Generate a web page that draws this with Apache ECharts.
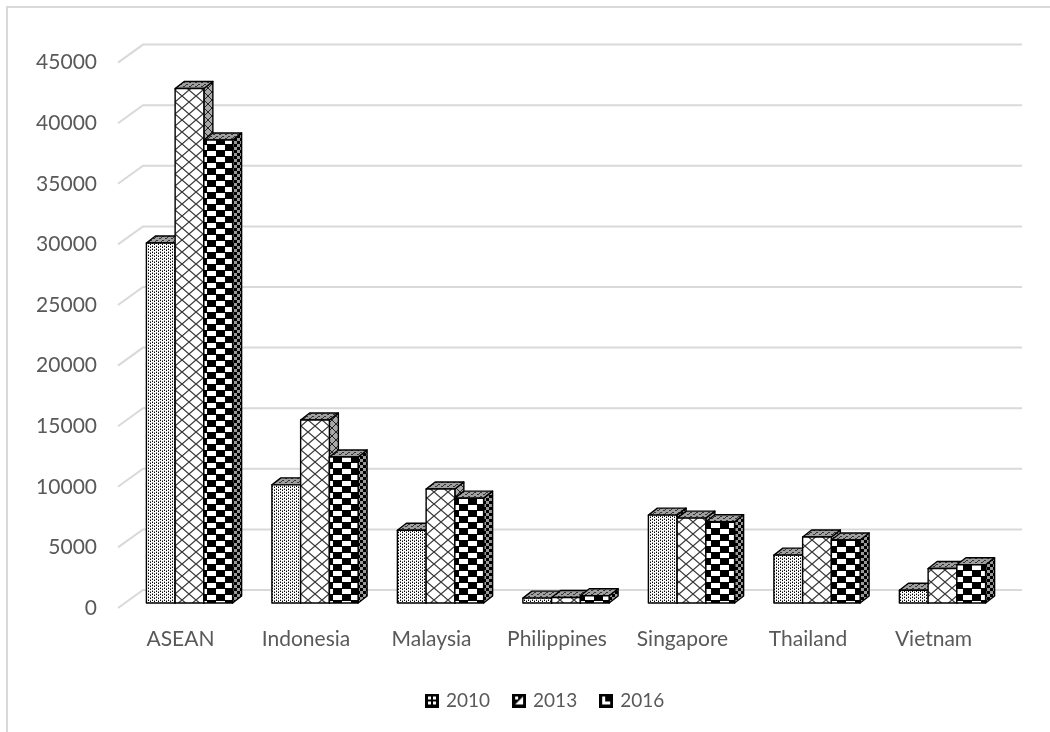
<!DOCTYPE html>
<html>
<head>
<meta charset="utf-8">
<script src="https://cdn.jsdelivr.net/npm/echarts@6/dist/echarts.min.js"></script>
<style>
  html, body { margin: 0; padding: 0; background: #ffffff; }
  #chart { width: 1050px; height: 732px; }
</style>
</head>
<body>
<div id="chart"></div>
<script>
// ---- data ----
const categories = ['ASEAN', 'Indonesia', 'Malaysia', 'Philippines', 'Singapore', 'Thailand', 'Vietnam'];
const years = ['2010', '2013', '2016'];
const values2010 = [29700, 9750, 6000, 400, 7250, 3950, 1050];
const values2013 = [42450, 15100, 9400, 450, 7000, 5450, 2850];
const values2016 = [38200, 12050, 8650, 600, 6700, 5200, 3150];
const yTicks = [0, 5000, 10000, 15000, 20000, 25000, 30000, 35000, 40000, 45000];

// ---- patterns ----
function makeCanvas(w, h, draw) {
  const c = document.createElement('canvas');
  c.width = w; c.height = h;
  const ctx = c.getContext('2d');
  draw(ctx, w, h);
  return c;
}
function pat(c) { return { image: c, repeat: 'repeat' }; }

const front2010 = makeCanvas(4, 3, (ctx) => {
  ctx.fillStyle = '#fff'; ctx.fillRect(0, 0, 4, 3);
  ctx.fillStyle = '#000'; ctx.fillRect(0, 0, 1, 1); ctx.fillRect(2, 1, 1, 1);
  ctx.fillStyle = '#8a8a8a'; ctx.fillRect(0, 2, 1, 1); ctx.fillRect(2, 0, 1, 1);
});
const side2010 = makeCanvas(3, 3, (ctx) => {
  ctx.fillStyle = '#bdbdbd'; ctx.fillRect(0, 0, 3, 3);
  ctx.fillStyle = '#000'; ctx.fillRect(0, 0, 1, 1); ctx.fillRect(1, 2, 1, 1);
});
const front2013 = makeCanvas(14, 12, (ctx) => {
  ctx.fillStyle = '#fff'; ctx.fillRect(0, 0, 14, 12);
  ctx.strokeStyle = '#3a3a3a'; ctx.lineWidth = 1.3;
  ctx.beginPath();
  ctx.moveTo(0, 0); ctx.lineTo(14, 12);
  ctx.moveTo(14, 0); ctx.lineTo(0, 12);
  ctx.stroke();
});
const side2013 = makeCanvas(8, 8, (ctx) => {
  ctx.fillStyle = '#a8a8a8'; ctx.fillRect(0, 0, 8, 8);
  ctx.strokeStyle = '#222'; ctx.lineWidth = 1;
  ctx.beginPath();
  ctx.moveTo(0, 0); ctx.lineTo(8, 8);
  ctx.moveTo(8, 0); ctx.lineTo(0, 8);
  ctx.stroke();
});
const front2016 = makeCanvas(18, 12, (ctx) => {
  ctx.fillStyle = '#fff'; ctx.fillRect(0, 0, 18, 12);
  ctx.fillStyle = '#000';
  ctx.fillRect(9, 0, 9, 6); ctx.fillRect(0, 6, 9, 6);
  ctx.fillRect(0, 0, 18, 1); ctx.fillRect(0, 6, 18, 1);
});
const side2016 = makeCanvas(6, 6, (ctx) => {
  ctx.fillStyle = '#9a9a9a'; ctx.fillRect(0, 0, 6, 6);
  ctx.fillStyle = '#000';
  ctx.fillRect(0, 0, 3, 3); ctx.fillRect(3, 3, 3, 3);
});
const topTex = makeCanvas(6, 4, (ctx) => {
  ctx.fillStyle = '#a0a0a0'; ctx.fillRect(0, 0, 6, 4);
  ctx.fillStyle = '#333';
  ctx.fillRect(0, 0, 2, 1); ctx.fillRect(3, 2, 2, 1); ctx.fillRect(5, 1, 1, 1);
});

const frontPatterns = [pat(front2010), pat(front2013), pat(front2016)];
const sidePatterns = [pat(side2010), pat(side2013), pat(side2016)];
const topPattern = pat(topTex);

// legend icons
const icon2010 = makeCanvas(14, 14, (ctx) => {
  ctx.fillStyle = '#000'; ctx.fillRect(0, 0, 14, 14);
  ctx.fillStyle = '#fff';
  ctx.fillRect(3, 3, 3, 3); ctx.fillRect(8, 3, 3, 3);
  ctx.fillRect(3, 8, 3, 3); ctx.fillRect(8, 8, 3, 3);
});
const icon2013 = makeCanvas(14, 14, (ctx) => {
  ctx.fillStyle = '#000'; ctx.fillRect(0, 0, 14, 14);
  ctx.fillStyle = '#fff';
  ctx.beginPath(); ctx.moveTo(11, 3); ctx.lineTo(11, 11); ctx.lineTo(3, 11); ctx.closePath(); ctx.fill();
  ctx.fillRect(3, 3, 3, 3);
});
const icon2016 = makeCanvas(14, 14, (ctx) => {
  ctx.fillStyle = '#000'; ctx.fillRect(0, 0, 14, 14);
  ctx.fillStyle = '#fff'; ctx.fillRect(3, 3, 8, 8);
  ctx.fillStyle = '#000'; ctx.fillRect(6, 3, 5, 5);
});
const legendIcons = [icon2010, icon2013, icon2016].map(c => 'image://' + c.toDataURL());

// ---- geometry of the 3D look ----
const DEPTH_X = 9, DEPTH_Y = 7;   // bar depth offset
const BAR_RATIO = 0.229;          // each bar width / category band

function makeBarRender(seriesIdx) {
  return function (params, api) {
    const cat = api.value(0);
    const val = api.value(1);
    const top = api.coord([cat, val]);
    const base = api.coord([cat, 0]);
    const band = api.size([1, 0])[0];
    const w = band * BAR_RATIO;
    const x0 = top[0] - 1.5 * w + seriesIdx * w;
    const x1 = x0 + w;
    const yT = top[1], yB = base[1];
    const stroke = { stroke: '#000', lineWidth: 1.4, lineJoin: 'round' };
    return {
      type: 'group',
      children: [
        { type: 'polygon', shape: { points: [[x1, yT], [x1 + DEPTH_X, yT - DEPTH_Y], [x1 + DEPTH_X, yB - DEPTH_Y], [x1, yB]] },
          style: Object.assign({ fill: sidePatterns[seriesIdx] }, stroke) },
        { type: 'polygon', shape: { points: [[x0, yT], [x1, yT], [x1 + DEPTH_X, yT - DEPTH_Y], [x0 + DEPTH_X, yT - DEPTH_Y]] },
          style: Object.assign({ fill: topPattern }, stroke) },
        { type: 'rect', shape: { x: x0, y: yT, width: w, height: yB - yT },
          style: Object.assign({ fill: frontPatterns[seriesIdx] }, stroke) }
      ]
    };
  };
}

// gridlines on the back wall with the slanted floor edge, and tick labels at the front edge
function gridRender(params, api) {
  const cs = params.coordSys;
  const v = api.value(1);
  const y = api.coord([0, v])[1];
  return {
    type: 'group',
    children: [
      { type: 'polyline',
        shape: { points: [[cs.x - 8.75, y + 5], [cs.x + 16.25, y - 13], [cs.x + cs.width + 16.75, y - 13]] },
        style: { stroke: '#d9d9d9', lineWidth: 2, fill: null } },
      { type: 'text',
        style: { text: String(v), x: 97, y: y + 5, align: 'right', verticalAlign: 'middle',
                 fill: '#595959', fontSize: 21, fontFamily: 'Lato' } }
    ]
  };
}

const seriesValues = [values2010, values2013, values2016];

const chart = echarts.init(document.getElementById('chart'), null, { renderer: 'canvas' });
chart.setOption({
  animation: false,
  backgroundColor: '#ffffff',
  graphic: [{
    type: 'rect', z: -10, silent: true,
    shape: { x: 7, y: 7, width: 1100, height: 800 },
    style: { fill: null, stroke: '#d9d9d9', lineWidth: 2 }
  }],
  grid: { left: 126.75, right: 44.75, top: 57.6, bottom: 129 },
  legend: {
    data: years.map((y, i) => ({ name: y, icon: legendIcons[i] })),
    left: 420, top: 686,
    itemWidth: 14, itemHeight: 14, itemGap: 22,
    textStyle: { color: '#595959', fontSize: 19, fontFamily: 'Lato', padding: [0, 0, 0, 2] }
  },
  xAxis: {
    type: 'category',
    data: categories,
    axisLine: { show: false },
    axisTick: { show: false },
    splitLine: { show: false },
    axisLabel: { interval: 0, color: '#595959', fontSize: 21, fontFamily: 'Lato', margin: 26, padding: [0, 18, 0, 0] }
  },
  yAxis: {
    type: 'value',
    min: 0, max: 45000, interval: 5000,
    axisLine: { show: false },
    axisTick: { show: false },
    splitLine: { show: false },
    axisLabel: { show: false }
  },
  series: [
    { type: 'custom', name: 'grid', z: 1, silent: true, renderItem: gridRender,
      data: yTicks.map(t => [0, t]), encode: { x: 0, y: 1 } }
  ].concat(years.map((y, i) => ({
    type: 'custom', name: y, z: 2 + i,
    itemStyle: { color: '#000' },
    renderItem: makeBarRender(i),
    encode: { x: 0, y: 1 },
    data: categories.map((c, k) => [k, seriesValues[i][k]])
  })))
});
</script>
</body>
</html>
